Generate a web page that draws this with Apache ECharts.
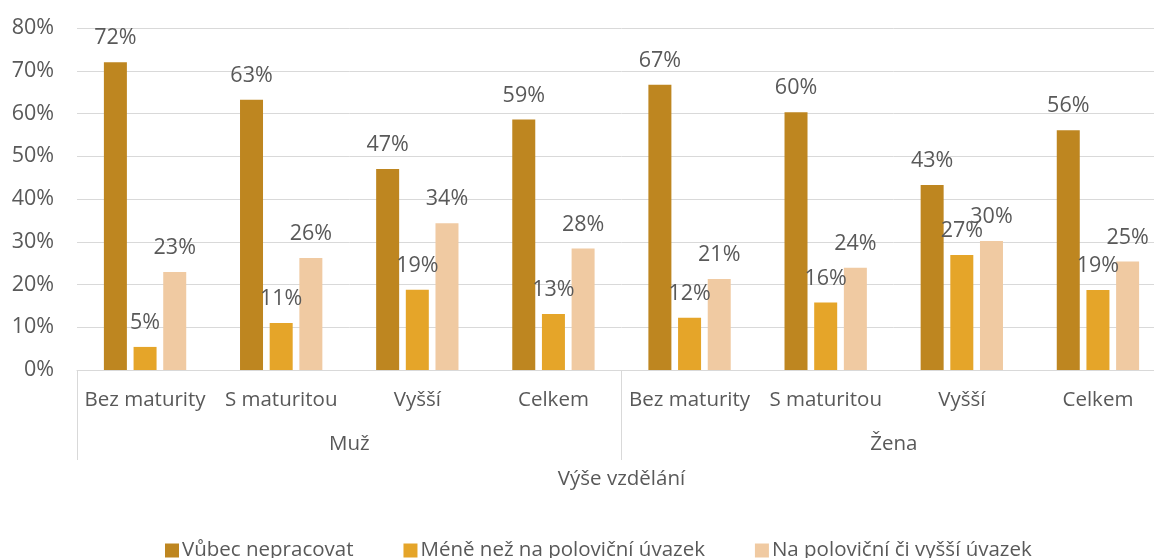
<!DOCTYPE html>
<html>
<head>
<meta charset="utf-8">
<script src="https://cdn.jsdelivr.net/npm/echarts@6/dist/echarts.min.js"></script>
<style>
html,body{margin:0;padding:0;background:#fff;overflow:hidden;width:1154px;height:558px;}
#chart{width:1166px;height:558px;}
</style>
</head>
<body>
<div id="chart"></div>
<script>
const categories = ['Bez maturity','S maturitou','Vyšší','Celkem','Bez maturity','S maturitou','Vyšší','Celkem'];
const groups = ['Muž','Žena'];
const axisTitle = 'Výše vzdělání';
const seriesNames = ['Vůbec nepracovat','Méně než na poloviční úvazek','Na poloviční či vyšší úvazek'];
const vubecNepracovat = [72.0, 63.2, 47.0, 58.6, 66.7, 60.3, 43.3, 56.1];
const meneNezPolovicni = [5.4, 11.0, 18.8, 13.1, 12.2, 15.8, 26.9, 18.7];
const polovicniCiVyssi = [22.9, 26.2, 34.3, 28.4, 21.3, 23.9, 30.2, 25.4];
const yTicks = [0, 10, 20, 30, 40, 50, 60, 70, 80];

const colors = ['#BE8620', '#E5A529', '#F0CAA2'];
const textColor = '#595959';
const fontFamily = '"Open Sans", sans-serif';
const numSize = 21.5;
const txtSize = 20.5;
const chart = echarts.init(document.getElementById('chart'));

function mkSeries(name, data, color) {
  return {
    name: name,
    type: 'bar',
    data: data,
    barWidth: 23,
    barGap: '29%',
    itemStyle: { color: color },
    label: {
      show: true,
      position: 'top',
      distance: 13,
      color: textColor,
      fontSize: numSize,
      fontFamily: fontFamily,
      formatter: p => Math.round(p.value) + '%'
    }
  };
}

chart.setOption({
  animation: false,
  textStyle: { fontFamily: fontFamily },
  grid: { left: 77, right: 0, top: 28, bottom: 188, containLabel: false },
  legend: {
    data: seriesNames,
    top: 540,
    left: 165,
    padding: 0,
    itemWidth: 14,
    itemHeight: 14,
    itemGap: 50,
    icon: 'rect',
    textStyle: { color: textColor, fontSize: txtSize, fontFamily: fontFamily, padding: [0, 0, 0, -2] }
  },
  xAxis: [
    {
      type: 'category',
      data: categories,
      position: 'bottom',
      axisLine: { show: true, lineStyle: { color: '#d9d9d9', width: 1 } },
      axisTick: { show: false },
      axisLabel: { interval: 0, margin: 20, color: textColor, fontSize: txtSize, fontFamily: fontFamily }
    },
    {
      type: 'category',
      data: groups,
      position: 'bottom',
      boundaryGap: true,
      axisLine: { show: false },
      axisTick: { show: true, length: 90, interval: 0, lineStyle: { color: '#d9d9d9', width: 1 } },
      axisLabel: { interval: 0, margin: 64, color: textColor, fontSize: txtSize, fontFamily: fontFamily },
      name: axisTitle,
      nameLocation: 'middle',
      nameGap: 99,
      nameTextStyle: { color: textColor, fontSize: txtSize, fontFamily: fontFamily }
    }
  ],
  yAxis: {
    type: 'value',
    min: yTicks[0],
    max: yTicks[yTicks.length - 1],
    interval: 10,
    axisLine: { show: false },
    axisTick: { show: false },
    splitLine: { lineStyle: { color: '#d9d9d9', width: 1 } },
    axisLabel: { margin: 23, color: textColor, fontSize: numSize, fontFamily: fontFamily, formatter: '{value}%' }
  },
  series: [
    mkSeries(seriesNames[0], vubecNepracovat, colors[0]),
    mkSeries(seriesNames[1], meneNezPolovicni, colors[1]),
    mkSeries(seriesNames[2], polovicniCiVyssi, colors[2])
  ]
});
</script>
</body>
</html>
